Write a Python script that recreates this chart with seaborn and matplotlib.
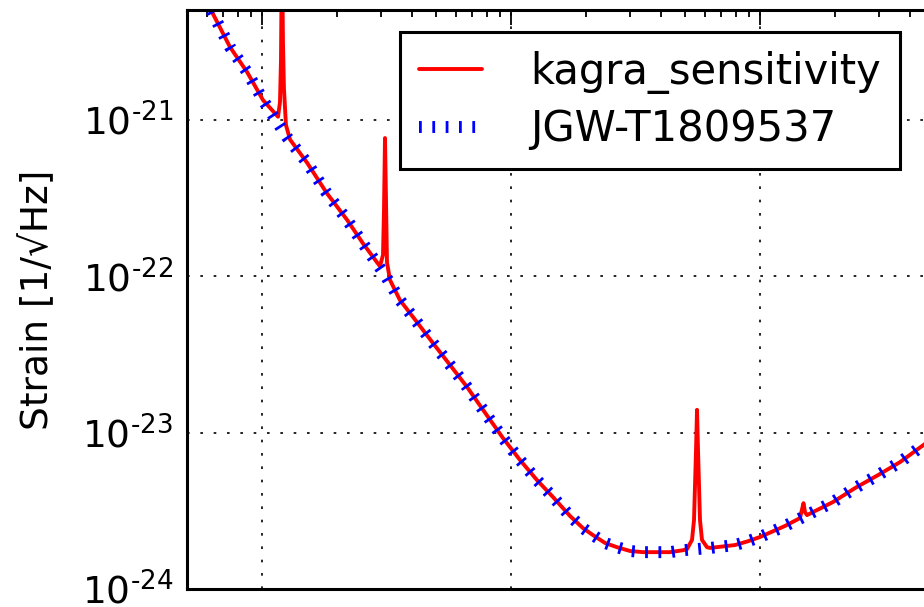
import matplotlib
matplotlib.use("Agg")
import matplotlib.pyplot as plt
from matplotlib.ticker import FuncFormatter
import numpy as np
import seaborn as sns

# frequency [Hz] and strain [1/sqrt(Hz)]
jgw_freq = [5.0, 6.3, 7.44, 8.71, 10.1, 12.6, 15.2, 18.2, 22.0, 25.4, 31.2, 35.8,
            41.9, 48.6, 56.9, 66.6, 77.2, 92.9, 108.7, 127.2, 147.5, 172.6, 194.6,
            213.5, 238.5, 266.5, 300.6, 338.9, 385.8, 435.1, 490.8, 558.5, 630.0,
            793.6, 894.7, 1000.0, 1260.0, 1545.0, 1965.0, 2407.0, 2978.0, 3650.0,
            4473.0, 6972.0]
jgw_strain = [1.0e-20, 4.91e-21, 2.93e-21, 2.03e-21, 1.34e-21, 7.78e-22, 5.31e-22,
              3.41e-22, 2.29e-22, 1.63e-22, 1.02e-22, 7.05e-23, 5.10e-23, 3.74e-23,
              2.71e-23, 1.96e-23, 1.40e-23, 9.23e-24, 6.68e-24, 4.97e-24, 3.87e-24,
              2.93e-24, 2.45e-24, 2.21e-24, 1.97e-24, 1.85e-24, 1.75e-24, 1.72e-24,
              1.72e-24, 1.72e-24, 1.77e-24, 1.80e-24, 1.83e-24, 1.91e-24, 2.02e-24,
              2.15e-24, 2.53e-24, 2.97e-24, 3.60e-24, 4.42e-24, 5.35e-24, 6.48e-24,
              8.21e-24, 1.37e-23]

kagra_freq = [5.0, 6.3, 7.44, 8.71, 10.1, 11.6, 11.81, 11.92, 12.03, 12.14, 12.25,
              12.48, 12.96, 15.2, 18.2, 22.0, 25.4, 29.77, 30.62, 30.9, 31.19, 31.48,
              31.77, 32.67, 35.8, 41.9, 48.6, 56.9, 66.6, 77.2, 92.9, 108.7, 127.2,
              147.5, 172.6, 194.6, 213.5, 238.5, 266.5, 300.6, 338.9, 385.8, 435.1,
              490.8, 509.2, 533.3, 543.2, 553.4, 558.5, 563.7, 574.1, 584.8, 612.5,
              630.0, 793.6, 894.7, 1000.0, 1260.0, 1447.0, 1495.0, 1516.0, 1545.0,
              1965.0, 2407.0, 2978.0, 3650.0, 4473.0, 6972.0]
kagra_strain = [1.0e-20, 4.91e-21, 2.93e-21, 2.03e-21, 1.34e-21, 1.05e-21, 1.3e-21,
                2.4e-21, 1.4e-20, 3.2e-21, 1.6e-21, 9.3e-22, 7.5e-22, 5.31e-22,
                3.41e-22, 2.29e-22, 1.63e-22, 1.16e-22, 1.37e-22, 2.65e-22, 7.67e-22,
                3.08e-22, 1.23e-22, 9.47e-23, 7.05e-23, 5.10e-23, 3.74e-23, 2.71e-23,
                1.96e-23, 1.40e-23, 9.23e-24, 6.68e-24, 4.97e-24, 3.87e-24, 2.93e-24,
                2.45e-24, 2.21e-24, 1.97e-24, 1.85e-24, 1.75e-24, 1.72e-24, 1.72e-24,
                1.72e-24, 1.77e-24, 1.80e-24, 2.06e-24, 2.76e-24, 7.74e-24, 1.40e-23,
                7.74e-24, 2.76e-24, 2.06e-24, 1.85e-24, 1.83e-24, 1.91e-24, 2.02e-24,
                2.15e-24, 2.53e-24, 2.84e-24, 3.54e-24, 3.10e-24, 2.97e-24, 3.60e-24,
                4.42e-24, 5.35e-24, 6.48e-24, 8.21e-24, 1.37e-23]

sns.set_style("white")
plt.rcParams['font.family'] = ['DejaVu Sans']
plt.rcParams['lines.scale_dashes'] = False
plt.rcParams['text.color'] = 'black'
plt.rcParams['axes.labelcolor'] = 'black'
plt.rcParams['xtick.color'] = 'black'
plt.rcParams['ytick.color'] = 'black'

dots = (0, (2.0, 7.6))

fig = plt.figure(figsize=(9.24, 6.07), dpi=100)
# axes run past the right edge of the figure, as in the cropped original
ax = fig.add_axes([0.2024, 0.0297, 0.8474, 0.9539])
ax.set_xscale('log')
ax.set_yscale('log')

sns.lineplot(x=kagra_freq, y=kagra_strain, ax=ax, color='red', lw=2.8,
             estimator=None, label='kagra_sensitivity')
sns.lineplot(x=jgw_freq, y=jgw_strain, ax=ax, color='blue', lw=8.6,
             linestyle=dots, estimator=None, label='JGW-T1809537')

ax.set_xlim(5.0, 6972.0)
ax.set_ylim(1e-24, 5.06e-21)

ax.grid(True, which='major', color='black', linestyle=(0, (1.9, 7.7)), linewidth=1.2)
for s in ax.spines.values():
    s.set_linewidth(2.2)
    s.set_color('black')
ax.tick_params(which='both', direction='in', top=True, right=True, width=1.3,
               color='black')
ax.tick_params(which='major', length=11)
ax.tick_params(which='minor', length=5)
ax.tick_params(axis='y', labelsize=27, pad=10)
ax.tick_params(axis='x', labelbottom=False)
ax.yaxis.set_major_formatter(FuncFormatter(
    lambda v, p: r'$\mathdefault{10^{\text{-}%d}}$' % round(-np.log10(v))))

ax.set_ylabel('Strain [1/\u221aHz]', fontsize=27)
ax.yaxis.set_label_coords(-0.2024 / 0.8474 + 56 / 783, 0.5)

leg = ax.legend(loc='upper right', bbox_to_anchor=(900 / 924, 1 - 32 / 607),
                bbox_transform=fig.transFigure, borderaxespad=0, fontsize=30,
                fancybox=False, framealpha=1, edgecolor='black', borderpad=0.45,
                handlelength=1.5, handletextpad=1.17, labelspacing=0.35)
leg.get_frame().set_linewidth(2.2)

fig.savefig('out.png', dpi=100)
